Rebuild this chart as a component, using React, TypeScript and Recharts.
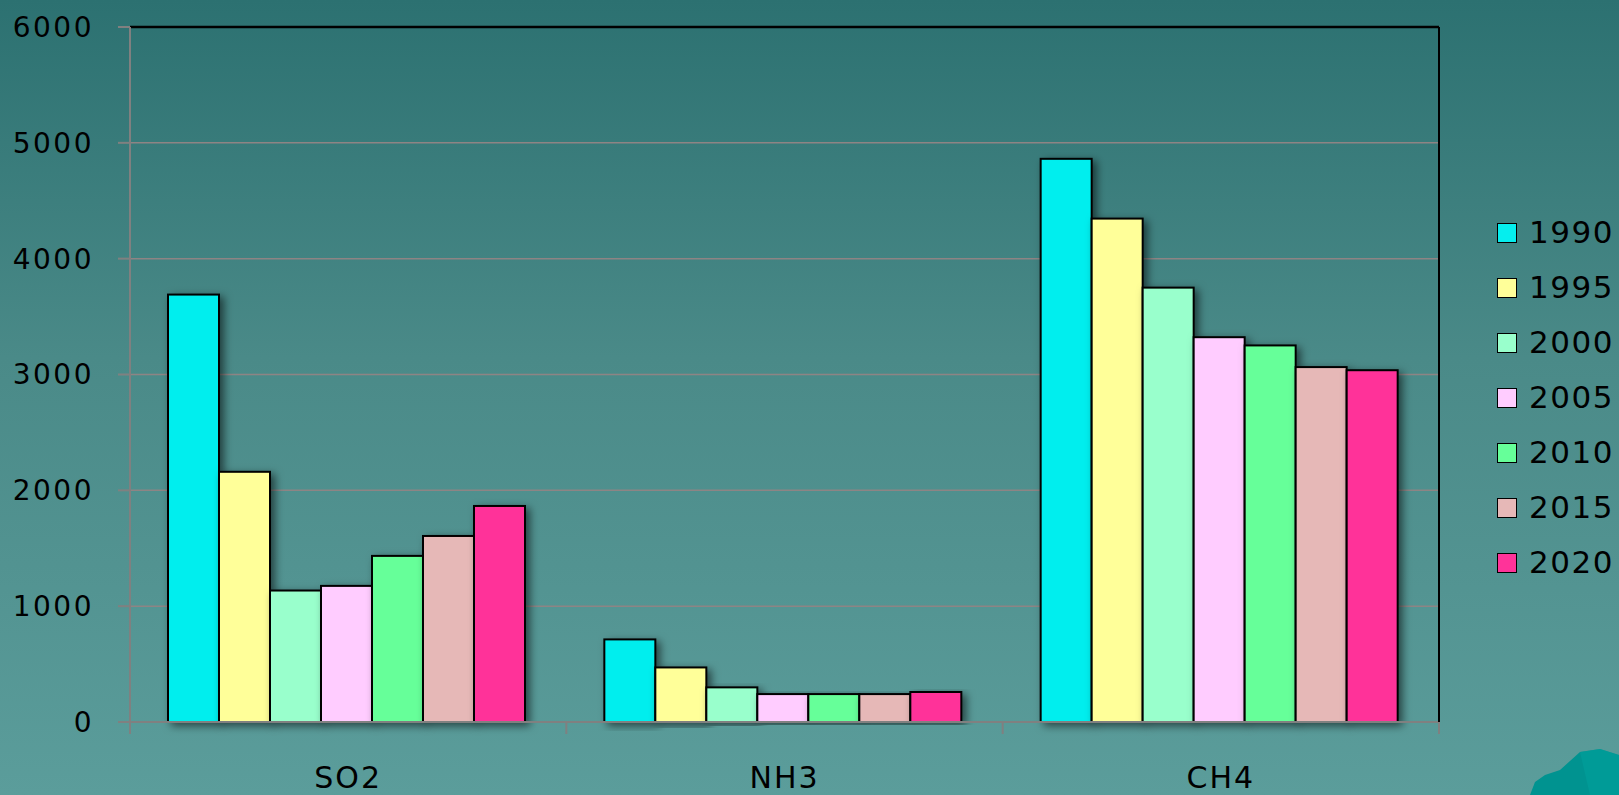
import {
  BarChart,
  Bar,
  XAxis,
  YAxis,
  CartesianGrid,
  Legend,
  ReferenceLine,
} from 'recharts'

const categories = ['SO2', 'NH3', 'CH4']
const years = ['1990', '1995', '2000', '2005', '2010', '2015', '2020']
const v1990 = [3690, 713, 4862]
const v1995 = [2160, 471, 4346]
const v2000 = [1135, 299, 3750]
const v2005 = [1175, 241, 3322]
const v2010 = [1434, 241, 3251]
const v2015 = [1606, 241, 3064]
const v2020 = [1865, 259, 3037]
const yTicks = [0, 1000, 2000, 3000, 4000, 5000, 6000]

const seriesValues = [v1990, v1995, v2000, v2005, v2010, v2015, v2020]
const colors = ['#05EEEE', '#FFFF99', '#99FFCC', '#FFCCFF', '#66FF99', '#E6B8B7', '#FF3399']

const data = categories.map((c, i) => {
  const row: Record<string, string | number> = { cat: c }
  years.forEach((y, k) => {
    row[y] = seriesValues[k][i]
  })
  return row
})

const FONT = '"DejaVu Sans", Verdana, sans-serif'
const TICK_SIZE = 12
const CAT_MARGIN = 33

function BarShape(props: any) {
  const { x, y, width, height, fill } = props
  if (!height || height <= 0) return null
  return (
    <rect
      x={x}
      y={y}
      width={width}
      height={height}
      fill={fill}
      stroke="#000"
      strokeWidth={2}
      filter="url(#barShadow)"
    />
  )
}

// category label centred, tick lines at the category boundaries
function CatTick(props: any) {
  const { x, y, payload, index, visibleTicksCount } = props
  const half = payload?.offset ?? 218
  const lineTop = y - CAT_MARGIN - TICK_SIZE
  const lineBottom = y - CAT_MARGIN
  return (
    <g>
      <line x1={x - half} x2={x - half} y1={lineTop} y2={lineBottom} stroke="#808080" strokeWidth={2} />
      {index === visibleTicksCount - 1 && (
        <line x1={x + half} x2={x + half} y1={lineTop} y2={lineBottom} stroke="#808080" strokeWidth={2} />
      )}
      <text x={x} y={y} dy="0.71em" textAnchor="middle" fill="#000" fontSize={30} fontFamily={FONT} letterSpacing={2}>
        {payload.value}
      </text>
    </g>
  )
}

function LegendBox() {
  return (
    <div style={{ fontFamily: FONT }}>
      {years.map((y, i) => (
        <div key={y} style={{ display: 'flex', alignItems: 'center', height: 55 }}>
          <div
            style={{
              width: 18,
              height: 18,
              background: colors[i],
              border: '1.5px solid #000',
              marginRight: 12,
            }}
          />
          <span style={{ fontSize: 31, color: '#000', lineHeight: '31px', letterSpacing: 1.5 }}>{y}</span>
        </div>
      ))}
    </div>
  )
}

export default function App() {
  return (
    <div
      style={{
        position: 'fixed',
        left: 0,
        top: 0,
        width: 1619,
        height: 795,
        overflow: 'hidden',
        background: 'linear-gradient(180deg, #2C7171 0%, #4A8A88 45%, #5B9D9B 100%)',
      }}
    >
      <svg width={1619} height={795} style={{ position: 'absolute', left: 0, top: 0 }}>
        <polygon
          points="1530,795 1535,782 1545,775 1560,770 1580,752 1600,749 1619,755 1619,795"
          fill="#009390"
        />
        <polygon points="1580,752 1600,749 1619,755 1619,795 1590,795" fill="#00A09C" opacity={0.6} />
      </svg>
      <div style={{ position: 'absolute', left: 0, top: 0 }}>
        <BarChart
          width={1619}
          height={795}
          data={data}
          margin={{ top: 27, right: 170, bottom: 0, left: 0 }}
          barCategoryGap={38}
          barGap={0}
        >
          <defs>
            <filter id="barShadow" x="-30%" y="-10%" width="160%" height="120%">
              <feDropShadow dx={4} dy={3} stdDeviation={4} floodColor="#000" floodOpacity={0.55} />
            </filter>
          </defs>
          <CartesianGrid vertical={false} stroke="#8E8484" strokeWidth={1.5} />
          <XAxis
            dataKey="cat"
            height={73}
            axisLine={{ stroke: '#808080', strokeWidth: 2 }}
            tickLine={false}
            tickSize={TICK_SIZE}
            tickMargin={CAT_MARGIN}
            tick={<CatTick />}
            interval={0}
          />
          <YAxis
            domain={[0, 6000]}
            ticks={yTicks}
            width={130}
            axisLine={{ stroke: '#808080', strokeWidth: 2 }}
            tickLine={{ stroke: '#808080', strokeWidth: 2 }}
            tickSize={TICK_SIZE}
            tickMargin={24}
            tick={{ fontSize: 28, fill: '#000', fontFamily: FONT, letterSpacing: 2.5 }}
          />
          <YAxis
            yAxisId="right"
            orientation="right"
            domain={[0, 6000]}
            width={10}
            tick={false}
            tickLine={false}
            axisLine={{ stroke: '#000', strokeWidth: 2 }}
          />
          <ReferenceLine y={6000} stroke="#000" strokeWidth={2.5} />
          <Legend
            layout="horizontal"
            verticalAlign="middle"
            align="center"
            content={<LegendBox />}
            wrapperStyle={{ left: 1497, top: 205, width: 122 }}
          />
          {years.map((y, i) => (
            <Bar
              key={y}
              dataKey={y}
              fill={colors[i]}
              shape={<BarShape />}
              isAnimationActive={false}
            />
          ))}
        </BarChart>
      </div>
    </div>
  )
}
